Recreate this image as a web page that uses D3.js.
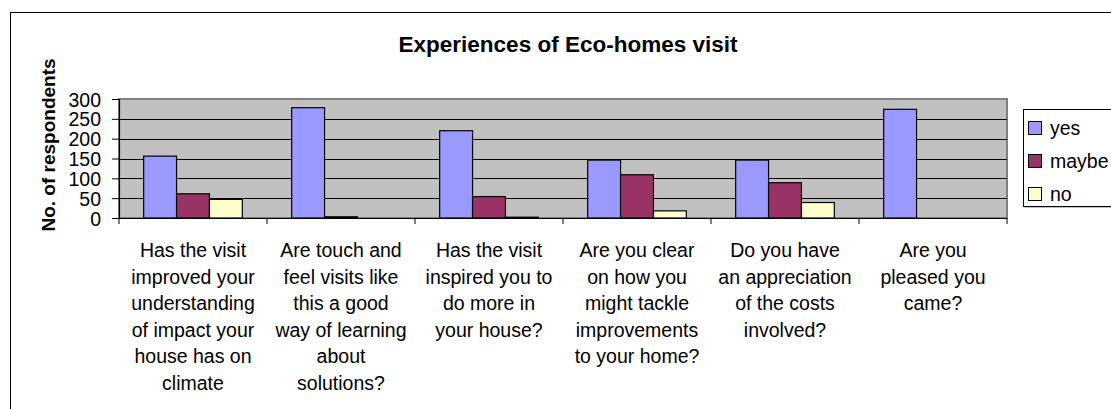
<!DOCTYPE html>
<html>
<head>
<meta charset="utf-8">
<script src="https://cdn.jsdelivr.net/npm/d3@7"></script>
<style>
  body { margin: 0; background: #fff; }
  svg { display: block; font-family: Arial, "Liberation Sans", sans-serif; }
</style>
</head>
<body>
<svg id="chart" width="1111" height="409"></svg>
<script>
// chart data
var categories = [
  "Has the visit\nimproved your\nunderstanding\nof impact your\nhouse has on\nclimate",
  "Are touch and\nfeel visits like\nthis a good\nway of learning\nabout\nsolutions?",
  "Has the visit\ninspired you to\ndo more in\nyour house?",
  "Are you clear\non how you\nmight tackle\nimprovements\nto your home?",
  "Do you have\nan appreciation\nof the costs\ninvolved?",
  "Are you\npleased you\ncame?"
];
var seriesNames = ["yes", "maybe", "no"];
var yesValues = [156, 278, 220, 146, 146, 274];
var maybeValues = [61, 3, 54, 109, 89, 0];
var noValues = [47, 0, 2, 18, 39, 0];
var yTicks = [0, 50, 100, 150, 200, 250, 300];

var colors = ["#9999ff", "#993366", "#ffffcc"];
var allSeries = [yesValues, maybeValues, noValues];

var plot = {left: 119, right: 1007, top: 99, bottom: 218};

var svg = d3.select("#chart");

// outer chart border
svg.append("rect")
  .attr("x", 10.5).attr("y", 12.5)
  .attr("width", 1200).attr("height", 500)
  .attr("fill", "#fff")
  .attr("stroke", "#000");

var x0 = d3.scaleBand()
  .domain(d3.range(categories.length))
  .range([plot.left, plot.right]);

// gap width 150% -> 0.75 bar each side
var x1 = d3.scaleBand()
  .domain(d3.range(seriesNames.length))
  .range([0, x0.bandwidth()])
  .paddingOuter(0.75)
  .paddingInner(0);

var y = d3.scaleLinear()
  .domain([0, 300])
  .range([plot.bottom, plot.top]);

// plot background
svg.append("rect")
  .attr("x", plot.left).attr("y", plot.top)
  .attr("width", plot.right - plot.left)
  .attr("height", plot.bottom - plot.top)
  .attr("fill", "#c0c0c0")
  .attr("stroke", "#808080")
  .attr("stroke-width", 2);

// gridlines
svg.append("g")
  .selectAll("line")
  .data(yTicks.filter(d => d > 0 && d < 300))
  .enter()
    .append("line")
    .attr("x1", plot.left).attr("x2", plot.right)
    .attr("y1", d => Math.round(y(d)) + 0.5)
    .attr("y2", d => Math.round(y(d)) + 0.5)
    .attr("stroke", "#000")
    .attr("stroke-width", 1.2);

// bars
var groups = svg.append("g")
  .selectAll("g")
  .data(categories.map((c, i) => i))
  .enter()
    .append("g")
    .attr("transform", i => "translate(" + x0(i) + ",0)");

groups.selectAll("rect")
  .data(i => allSeries.map((s, k) => ({k: k, v: s[i]})))
  .enter()
    .append("rect")
    .attr("x", d => x1(d.k))
    .attr("y", d => y(d.v))
    .attr("width", x1.bandwidth())
    .attr("height", d => y(0) - y(d.v))
    .attr("fill", d => colors[d.k])
    .attr("stroke", "#000")
    .attr("stroke-width", 1.2)
    .style("display", d => d.v > 0 ? null : "none");

// y axis
var yAxis = d3.axisLeft(y)
  .tickValues(yTicks)
  .tickSize(7)
  .tickPadding(11);

var yg = svg.append("g")
  .attr("transform", "translate(" + plot.left + ",0)")
  .call(yAxis);
yg.select(".domain").attr("stroke", "#000").attr("stroke-width", 1.2);
yg.selectAll(".tick line").attr("stroke", "#000");
yg.selectAll(".tick text")
  .attr("font-size", "19.5px")
  .attr("font-family", "Arial, 'Liberation Sans', sans-serif")
  .attr("fill", "#000")
  .attr("dy", "0.36em");

// x axis line with ticks at category boundaries
var xg = svg.append("g");
xg.append("line")
  .attr("x1", plot.left - 7).attr("x2", plot.right)
  .attr("y1", plot.bottom + 0.5).attr("y2", plot.bottom + 0.5)
  .attr("stroke", "#000").attr("stroke-width", 1.2);
xg.selectAll(".xtick")
  .data(d3.range(categories.length + 1))
  .enter()
    .append("line")
    .attr("class", "xtick")
    .attr("x1", i => i < categories.length ? x0(i) : plot.right)
    .attr("x2", i => i < categories.length ? x0(i) : plot.right)
    .attr("y1", plot.bottom)
    .attr("y2", plot.bottom + 6)
    .attr("stroke", "#000");

// category labels
var labels = svg.append("g")
  .selectAll("text")
  .data(categories)
  .enter()
    .append("text")
    .attr("x", (d, i) => x0(i) + x0.bandwidth() / 2)
    .attr("y", 257)
    .attr("text-anchor", "middle")
    .attr("font-size", "19.5px")
    .attr("fill", "#000");

labels.selectAll("tspan")
  .data((d, i) => d.split("\n").map(t => ({t: t, i: i})))
  .enter()
    .append("tspan")
    .attr("x", d => x0(d.i) + x0.bandwidth() / 2)
    .attr("dy", (d, j) => j === 0 ? 0 : 26.5)
    .text(d => d.t);

// title
svg.append("text")
  .attr("x", 568)
  .attr("y", 52)
  .attr("text-anchor", "middle")
  .attr("font-size", "22.5px")
  .attr("font-weight", "bold")
  .text("Experiences of Eco-homes visit");

// y axis title
svg.append("text")
  .attr("transform", "translate(55,145) rotate(-90)")
  .attr("text-anchor", "middle")
  .attr("font-size", "19px")
  .attr("font-weight", "bold")
  .text("No. of respondents");

// legend
var legend = svg.append("g")
  .attr("transform", "translate(1023,109)");

legend.append("rect")
  .attr("x", 1.5).attr("y", 1.5)
  .attr("width", 200).attr("height", 97)
  .attr("fill", "#808080");

legend.append("rect")
  .attr("x", 0.5).attr("y", 0.5)
  .attr("width", 200).attr("height", 97)
  .attr("fill", "#fff")
  .attr("stroke", "#000");

var items = legend.selectAll(".item")
  .data(seriesNames)
  .enter()
    .append("g")
    .attr("class", "item")
    .attr("transform", (d, i) => "translate(5," + (19 + i * 33) + ")");

items.append("rect")
  .attr("x", 0.5).attr("y", -6.5)
  .attr("width", 13).attr("height", 13)
  .attr("fill", (d, i) => colors[i])
  .attr("stroke", "#000");

items.append("text")
  .attr("x", 22)
  .attr("y", 0)
  .attr("dy", "0.36em")
  .attr("font-size", "19.5px")
  .text(d => d);
</script>
</body>
</html>
